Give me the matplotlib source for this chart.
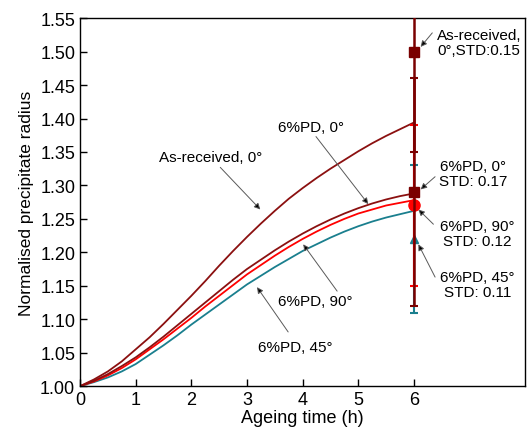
import numpy as np
import matplotlib
matplotlib.use('Agg')
import matplotlib.pyplot as plt

plt.rcParams['font.family'] = ['Liberation Sans', 'DejaVu Sans']

# ageing time (h) and normalised radius for each condition
t = [0, 0.25, 0.5, 0.75, 1, 1.25, 1.5, 1.75, 2, 2.25, 2.5, 2.75, 3, 3.25, 3.5,
     3.75, 4, 4.25, 4.5, 4.75, 5, 5.25, 5.5, 5.75, 6]
r_as_received = [1.000, 1.010, 1.022, 1.037, 1.055, 1.073, 1.093, 1.114, 1.135, 1.157,
                 1.180, 1.202, 1.223, 1.243, 1.262, 1.280, 1.296, 1.311, 1.325, 1.338,
                 1.351, 1.363, 1.374, 1.384, 1.394]
r_pd_0 = [1.000, 1.008, 1.018, 1.030, 1.043, 1.058, 1.074, 1.091, 1.108, 1.125,
          1.142, 1.159, 1.175, 1.189, 1.203, 1.216, 1.228, 1.239, 1.249, 1.258,
          1.266, 1.273, 1.279, 1.284, 1.288]
r_pd_90 = [1.000, 1.007, 1.016, 1.027, 1.040, 1.055, 1.070, 1.086, 1.102, 1.119,
           1.135, 1.151, 1.167, 1.181, 1.195, 1.208, 1.220, 1.231, 1.241, 1.250,
           1.258, 1.264, 1.270, 1.274, 1.278]
r_pd_45 = [1.000, 1.006, 1.013, 1.022, 1.033, 1.047, 1.061, 1.076, 1.092, 1.107,
           1.122, 1.137, 1.152, 1.165, 1.178, 1.190, 1.202, 1.212, 1.222, 1.231,
           1.239, 1.246, 1.252, 1.257, 1.262]

# measured values at 6 h with standard deviations
t_meas = 6
meas_as_received, std_as_received = 1.50, 0.15
meas_pd_0, std_pd_0 = 1.29, 0.17
meas_pd_90, std_pd_90 = 1.27, 0.12
meas_pd_45, std_pd_45 = 1.22, 0.11

DARK = '#8b1010'
MAROON = '#7a0000'
RED = '#ff0000'
TEAL = '#1a7f8e'

fig = plt.figure(figsize=(5.3, 4.35), dpi=100)
ax = fig.add_axes([0.151, 0.110, 0.840, 0.846])

ax.plot(t, r_as_received, color=DARK, lw=1.3)
ax.plot(t, r_pd_45, color=TEAL, lw=1.3)
ax.plot(t, r_pd_90, color=RED, lw=1.3)
ax.plot(t, r_pd_0, color=DARK, lw=1.3)

# error bars at the measurement time
ax.errorbar(t_meas, meas_pd_45, yerr=std_pd_45, fmt='^', color=TEAL, ms=6,
            elinewidth=1.5, capsize=3, capthick=1.5, zorder=4)
ax.errorbar(t_meas, meas_pd_90, yerr=std_pd_90, fmt='o', color=RED, ms=8,
            elinewidth=1.5, capsize=3, capthick=1.5, zorder=5)
ax.errorbar(t_meas, meas_as_received, yerr=std_as_received, fmt='s', color=MAROON, ms=6.5,
            elinewidth=1.8, capsize=3, capthick=1.5, zorder=6)
ax.errorbar(t_meas, meas_pd_0, yerr=std_pd_0, fmt='s', color=MAROON, ms=6.5,
            elinewidth=1.8, capsize=3, capthick=1.5, zorder=6)

arrow = dict(arrowstyle='-|>', fc='k', ec='0.35', lw=0.7, mutation_scale=9,
             shrinkA=0, shrinkB=0)
fs = 11

def label(text, pos, start, end):
    ax.annotate('', xy=end, xytext=start, arrowprops=arrow)
    ax.text(pos[0], pos[1], text, ha='center', va='center', fontsize=fs,
            linespacing=1.1)

# curve labels
label('As-received, 0°', (2.35, 1.342), (2.52, 1.327), (3.24, 1.264))
label('6%PD, 0°', (4.15, 1.388), (4.24, 1.373), (5.18, 1.272))
label('6%PD, 90°', (4.22, 1.127), (4.62, 1.142), (4.01, 1.212))
label('6%PD, 45°', (3.86, 1.058), (3.74, 1.081), (3.18, 1.148))

# measured point labels
label('As-received,\n0°,STD:0.15', (7.17, 1.514), (6.33, 1.528), (6.12, 1.507))
label('6%PD, 0°\nSTD: 0.17', (7.07, 1.318), (6.38, 1.313), (6.12, 1.294))
label('6%PD, 90°\nSTD: 0.12', (7.14, 1.228), (6.35, 1.242), (6.08, 1.264))
label('6%PD, 45°\nSTD: 0.11', (7.14, 1.152), (6.38, 1.163), (6.08, 1.212))

ax.set_xlim(0, 8)
ax.set_ylim(1.00, 1.55)
ax.set_xticks(range(0, 7))
ax.set_yticks(np.arange(1.00, 1.551, 0.05))
ax.yaxis.set_major_formatter(plt.FormatStrFormatter('%.2f'))
ax.tick_params(direction='in', length=5, width=1, labelsize=13, top=False, right=False)
for s in ax.spines.values():
    s.set_linewidth(1.0)

ax.set_xlabel('Ageing time (h)', fontsize=13, labelpad=1)
ax.set_ylabel('Normalised precipitate radius', fontsize=12.5, labelpad=4)

fig.savefig('out.png', dpi=100)
